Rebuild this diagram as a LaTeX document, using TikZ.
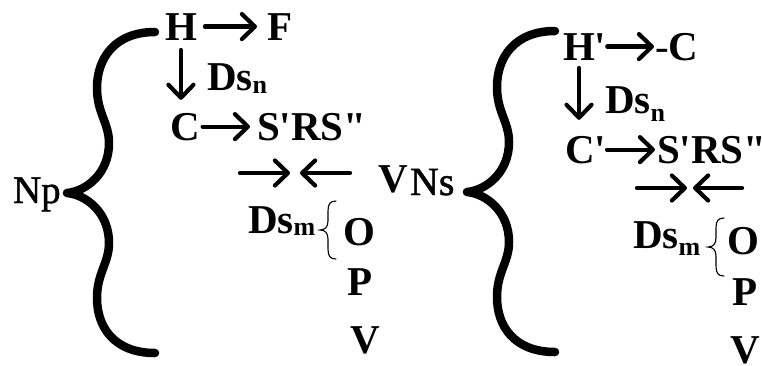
\documentclass[tikz,border=0pt]{standalone}
\usepackage{fontspec}
\usetikzlibrary{arrows.meta}
% plain family: no TeX ligature mapping, so ' and " stay straight
\newfontfamily\lib{Liberation Serif}
\newfontfamily\libmed{Liberation Serif}[FakeBold=1.2]
\newcommand\bigsz{\fontsize{41}{41}\selectfont}
\newcommand\subn[2]{\raisebox{#1}{\fontsize{26}{26}\selectfont\bfseries #2}}

\tikzset{
  sym/.style={inner sep=0pt, outer sep=0pt, anchor=base west,
    font=\lib\bigsz\bfseries},
  thin/.style={inner sep=0pt, outer sep=0pt, anchor=base west,
    font=\libmed\fontsize{#1}{#1}\selectfont},
  arr/.style={line width=4.2pt, line cap=round,
    -{Straight Barb[length=13pt,width=25pt,round]}},
  pics/bigbrace/.style={code={
    \draw[line width=8.5pt, line cap=round, line join=round]
      (88,-161) .. controls (48,-161) and (30,-135) .. (30,-105)
      .. controls (30,-80) and (42,-70) .. (42,-50)
      .. controls (42,-20) and (20,-2) .. (0,0)
      .. controls (20,2) and (42,20) .. (42,50)
      .. controls (42,70) and (30,80) .. (30,105)
      .. controls (30,135) and (48,160) .. (88,160);
  }},
  pics/smallbrace/.style={code={
    \draw[line width=1.1pt, line cap=round]
      (16,-29) .. controls (10,-29) and (8,-26) .. (8,-19)
      -- (8,-9) .. controls (8,-3) and (5,0) .. (0,0)
      .. controls (5,0) and (8,3) .. (8,9)
      -- (8,19) .. controls (8,26) and (10,29) .. (16,29);
  }},
}

\begin{document}
\begin{tikzpicture}[x=1pt, y=-1pt]
\useasboundingbox (0,0) rectangle (762,365);

% ---------- left group ----------
\pic at (67,193) {bigbrace};
\node[thin=39] (np) at (13,203) {Np};

\node[sym] (h) at (165,40) {H};
\node[sym] (f) at (267,40) {F};
\draw[arr, shorten <=8pt, shorten >=10pt] (h.east) -- (f.west);

\node[sym] (c) at (170,140) {C};
\draw[arr, shorten <=10pt, shorten >=13pt] (h.south) -- (h.south |- c.north);
\node[sym] (dsn) at (207,90) {Ds\subn{-3pt}{n}};

\node[sym] (s) at (257,140) {S'RS"};
\draw[arr, shorten <=3pt, shorten >=7pt] (c.east) -- (c.east -| s.west);

\coordinate (la1) at (240,173);
\coordinate (la2) at (290,173);
\coordinate (lb1) at (350,173);
\coordinate (lb2) at (300,173);
\draw[arr] (la1) -- (la2);
\draw[arr] (lb1) -- (lb2);

\node[sym] (vm) at (378,192) {V};

\node[sym] (dsm) at (248,233) {Ds\subn{-2pt}{m}};
\pic at (320,230) {smallbrace};
\node[sym] (o) at (343,245) {O};
\node[sym] (p) at (347,295) {P};
\node[sym] (v) at (350,353) {V};

% ---------- right group ----------
\node[thin=40] (ns) at (410,195) {Ns};
\pic at (467,192) {bigbrace};

\node[sym] (hp) at (563,60) {H'};
\node[sym] (mc) at (655,60) {{\mdseries -}C};
\draw[arr, shorten <=1pt, shorten >=1pt] (hp.east) -- (hp.east -| mc.west);

\node[sym] (cp) at (565,163) {C'};
\draw[arr, shorten <=8pt, shorten >=16pt]
  ([xshift=16pt]hp.south west) -- ([xshift=16pt]hp.south west |- cp.north);
\node[sym] (dsn2) at (605,113) {Ds\subn{-8pt}{n}};

\node[sym] (s2) at (657,163) {S'RS"};
\draw[arr, shorten <=1pt, shorten >=2pt] (cp.east) -- (cp.east -| s2.west);

\coordinate (ra1) at (637,188);
\coordinate (ra2) at (687,188);
\coordinate (rb1) at (742,188);
\coordinate (rb2) at (693,188);
\draw[arr] (ra1) -- (ra2);
\draw[arr] (rb1) -- (rb2);

\node[sym] (dsm2) at (633,248) {Ds\subn{-7pt}{m}};
\pic at (708,247) {smallbrace};
\node[sym] (o2) at (727,254) {O};
\node[sym] (p2) at (732,305) {P};
\node[sym] (v2) at (730,363) {V};
\end{tikzpicture}
\end{document}
